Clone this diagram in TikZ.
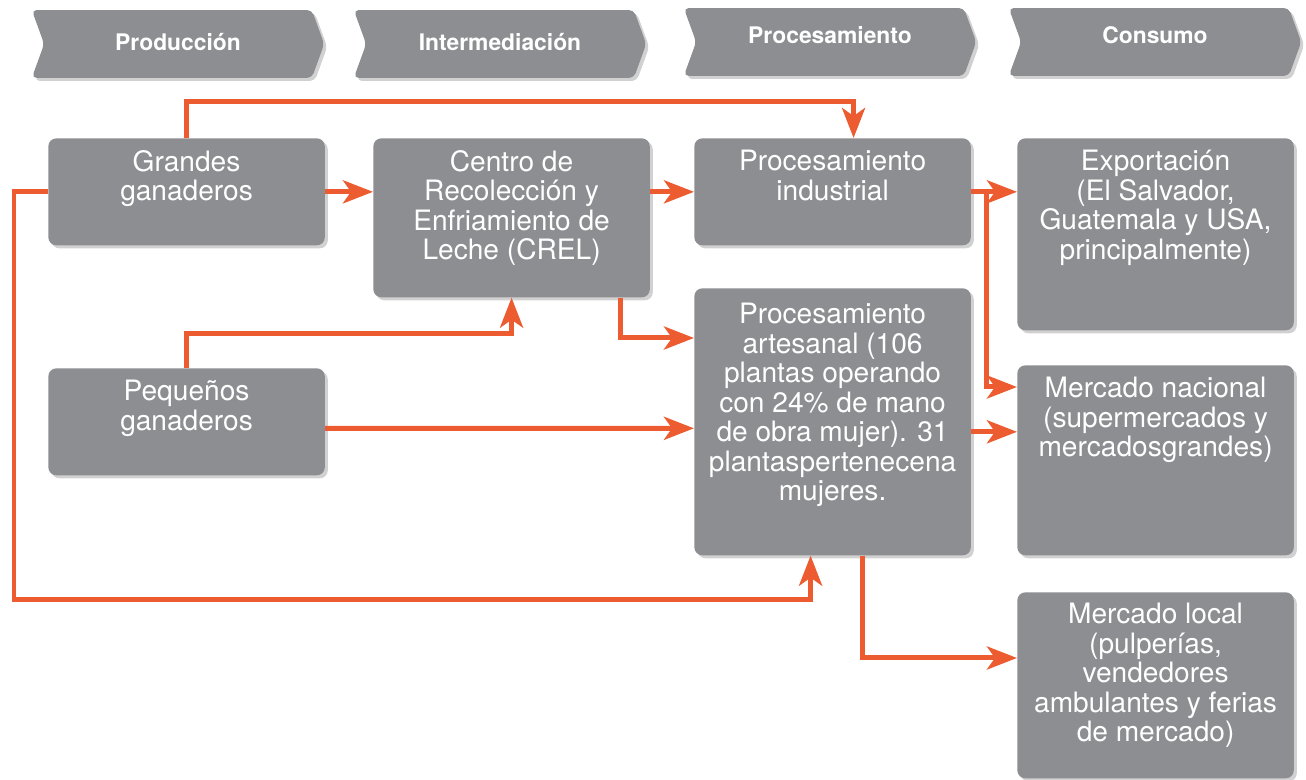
\documentclass[tikz,border=0pt]{standalone}
\usepackage{fontspec}
\setmainfont{TeX Gyre Heros}
\usetikzlibrary{positioning,arrows.meta,shapes.symbols,shadows}
\definecolor{cajagris}{RGB}{141,142,146}
\definecolor{naranja}{RGB}{236,92,48}
\tikzset{
  sombra/.style={drop shadow={shadow xshift=0.06cm,shadow yshift=-0.06cm,fill=black!18,opacity=1}},
  caja/.style={fill=cajagris,rounded corners=0.16cm,anchor=north west,minimum width=5.53cm,sombra},
  texto/.style={text=white,align=center,inner sep=0pt,font=\fontsize{16}{16.8}\selectfont},
  fase/.style={signal,signal to=east,signal from=west,signal pointer angle=140,fill=cajagris,
    minimum width=5.85cm,minimum height=1.36cm,rounded corners=0.1cm,text=white,
    font=\bfseries\fontsize{13}{15}\selectfont,text height=0.33cm,text depth=0.08cm,sombra},
  fasealta/.style={text depth=0.28cm},
  flecha/.style={draw=naranja,line width=0.1cm,-{Stealth[length=0.6cm,width=0.46cm,inset=0.16cm]}}
}
\begin{document}
\begin{tikzpicture}[x=0.02cm,y=-0.02cm]
\useasboundingbox (0,0) rectangle (1306,780);
%etapas
\node[fase] (f1) at (178,44) {Producción};
\node[fase] (f2) at (500,44) {Intermediación};
\node[fase,fasealta] (f3) at (830,42) {Procesamiento};
\node[fase,fasealta] (f4) at (1155,42) {Consumo};
%produccion
\node[caja,minimum height=2.14cm] (gg) at (48,138) {};
\node[texto,below=0.24cm of gg.north] {Grandes\\ganaderos};
\node[caja,minimum height=2.14cm] (pg) at (48,368) {};
\node[texto,below=0.24cm of pg.north] {Pequeños\\ganaderos};
%intermediacion
\node[caja,minimum height=3.18cm] (crel) at (373,138) {};
\node[texto,below=0.24cm of crel.north] {Centro de\\Recolección y\\Enfriamiento de\\Leche (CREL)};
%procesamiento
\node[caja,minimum height=2.14cm] (pind) at (694,138) {};
\node[texto,below=0.24cm of pind.north] {Procesamiento\\industrial};
\node[caja,minimum height=5.34cm] (part) at (694,288) {};
\node[texto,below=0.3cm of part.north] {Procesamiento\\artesanal (106\\plantas operando\\con 24\% de mano\\de obra mujer). 31\\plantaspertenecena\\mujeres.};
%consumo
\node[caja,minimum height=3.84cm] (expo) at (1017,138) {};
\node[texto,below=0.24cm of expo.north] {Exportación\\(El Salvador,\\Guatemala y USA,\\principalmente)};
\node[caja,minimum height=3.8cm] (mnac) at (1017,365) {};
\node[texto,below=0.24cm of mnac.north] {Mercado nacional\\(supermercados y\\mercadosgrandes)};
\node[caja,minimum height=3.72cm] (mloc) at (1017,592) {};
\node[texto,below=0.22cm of mloc.north] {Mercado local\\(pulperías,\\vendedores\\ambulantes y ferias\\de mercado)};
%flechas
\draw[flecha] (gg.north) -- ++(0,-36) -| ([xshift=0.42cm]pind.north);
\draw[flecha] (gg.east) -- (crel.west |- gg.east);
\draw[flecha] (gg.west) -| (14,600) -| ([xshift=-0.44cm]part.south);
\draw[flecha] (crel.east |- pind.west) -- (pind.west);
\draw[flecha] ([xshift=-0.6cm]crel.south east) |- ([yshift=-1cm]part.north west);
\draw[flecha] (pg.north) -- ++(0,-34) -| (crel.south);
\draw[flecha] ([yshift=-0.13cm]pg.east) -- ([yshift=-0.13cm]part.west);
\draw[flecha] (pind.east) -- (expo.west |- pind.east);
\draw[flecha] ([xshift=0.3cm]pind.east) |- ([yshift=-0.44cm]mnac.north west);
\draw[flecha] ([yshift=-0.2cm]part.east) -- ([yshift=-0.2cm]part.east -| mnac.west);
\draw[flecha] ([xshift=0.6cm]part.south) |- ([yshift=-1.32cm]mloc.north west);
\end{tikzpicture}
\end{document}
